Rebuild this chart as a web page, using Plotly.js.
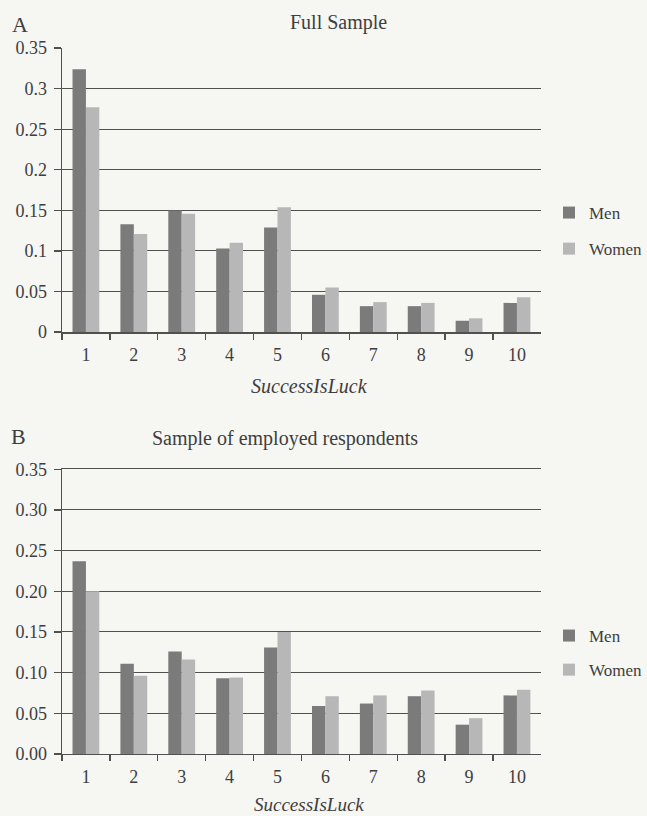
<!DOCTYPE html>
<html>
<head>
<meta charset="utf-8">
<script src="https://cdn.plot.ly/plotly-3.0.1.min.js"></script>
<style>html,body{margin:0;padding:0;background:#f6f6f3;overflow:hidden;}</style>
</head>
<body>
<div id="chart" style="width:647px;height:816px;"></div>
<script>
var categories = ['1','2','3','4','5','6','7','8','9','10'];
var menFull   = [0.324,0.133,0.150,0.103,0.129,0.046,0.032,0.032,0.014,0.036];
var womenFull = [0.277,0.121,0.146,0.110,0.154,0.055,0.037,0.036,0.017,0.043];
var menEmp    = [0.237,0.111,0.126,0.093,0.131,0.059,0.062,0.071,0.036,0.072];
var womenEmp  = [0.200,0.096,0.116,0.094,0.150,0.071,0.072,0.078,0.044,0.079];
var yTicksTop = [0,0.05,0.1,0.15,0.2,0.25,0.3,0.35];
var yTickTextTop = ['0','0.05','0.1','0.15','0.2','0.25','0.3','0.35'];
var yTicksBot = [0,0.05,0.1,0.15,0.2,0.25,0.3,0.35];
var yTickTextBot = ['0.00','0.05','0.10','0.15','0.20','0.25','0.30','0.35'];

var menColor = '#7b7b7b', womenColor = '#b7b7b7';
var txt = '#3e3e3e', lineC = '#505050';
var FONT = 'Liberation Serif, Times New Roman, serif';

var traces = [
  {type:'bar', x:categories, y:menFull, name:'Men', marker:{color:menColor}, xaxis:'x', yaxis:'y', legend:'legend', legendgroup:'m'},
  {type:'bar', x:categories, y:womenFull, name:'Women', marker:{color:womenColor}, xaxis:'x', yaxis:'y', legend:'legend', legendgroup:'w'},
  {type:'bar', x:categories, y:menEmp, name:'Men', marker:{color:menColor}, xaxis:'x2', yaxis:'y2', legend:'legend2', legendgroup:'m2'},
  {type:'bar', x:categories, y:womenEmp, name:'Women', marker:{color:womenColor}, xaxis:'x2', yaxis:'y2', legend:'legend2', legendgroup:'w2'}
];

function xax(anchor, mirror){
  return {domain:[0.0958,0.836], anchor:anchor, type:'category', tickson:'boundaries',
    ticks:'outside', ticklen:6, tickcolor:lineC, tickwidth:1.3, showline:true, mirror:mirror, linecolor:lineC, linewidth:1.4,
    showgrid:false, fixedrange:true, ticklabelstandoff:6, automargin:false,
    tickfont:{family:FONT, size:18, color:txt}};
}
function yax(anchor, dom, vals, text){
  return {domain:dom, anchor:anchor, range:[0,0.35], tickvals:vals, ticktext:text,
    ticks:'outside', ticklen:7, tickcolor:lineC, tickwidth:1.3, showline:true, linecolor:lineC, linewidth:1.4,
    showgrid:true, gridcolor:lineC, gridwidth:1, zeroline:false, ticklabelstandoff:3, automargin:false,
    tickfont:{family:FONT, size:18, color:txt}};
}

var layout = {
  width:647, height:816, margin:{l:0,r:0,t:0,b:0,autoexpand:false},
  paper_bgcolor:'#f6f6f3', plot_bgcolor:'rgba(0,0,0,0)',
  barmode:'group', bargap:0.44, bargroupgap:0,
  font:{family:FONT, color:txt},
  xaxis: xax('y', false),
  yaxis: yax('x',[0.593,0.941], yTicksTop, yTickTextTop),
  xaxis2: xax('y2', true),
  yaxis2: yax('x2',[0.076,0.425], yTicksBot, yTickTextBot),
  legend:{x:549/647, y:(816-195)/816, xanchor:'left', yanchor:'top', bgcolor:'rgba(0,0,0,0)',
    font:{family:FONT,size:17,color:txt}, tracegroupgap:11, itemwidth:30},
  legend2:{x:549/647, y:(816-618)/816, xanchor:'left', yanchor:'top', bgcolor:'rgba(0,0,0,0)',
    font:{family:FONT,size:17,color:txt}, tracegroupgap:9, itemwidth:30},
  annotations:[
    {text:'A', xref:'paper', yref:'paper', x:10/647, y:1-24/816, xanchor:'left', yanchor:'middle', showarrow:false, font:{family:FONT,size:22,color:txt}},
    {text:'Full Sample', xref:'paper', yref:'paper', x:338/647, y:1-22/816, xanchor:'center', yanchor:'middle', showarrow:false, font:{family:FONT,size:20,color:txt}},
    {text:'<i>SuccessIsLuck</i>', xref:'paper', yref:'paper', x:309/647, y:1-386/816, xanchor:'center', yanchor:'middle', showarrow:false, font:{family:FONT,size:20,color:txt}},
    {text:'B', xref:'paper', yref:'paper', x:9/647, y:1-436/816, xanchor:'left', yanchor:'middle', showarrow:false, font:{family:FONT,size:22,color:txt}},
    {text:'Sample of employed respondents', xref:'paper', yref:'paper', x:285/647, y:1-438/816, xanchor:'center', yanchor:'middle', showarrow:false, font:{family:FONT,size:20,color:txt}},
    {text:'<i>SuccessIsLuck</i>', xref:'paper', yref:'paper', x:309/647, y:1-804/816, xanchor:'center', yanchor:'middle', showarrow:false, font:{family:FONT,size:19,color:txt}}
  ]
};

Plotly.newPlot('chart', traces, layout, {displayModeBar:false, staticPlot:true});
</script>
</body>
</html>
